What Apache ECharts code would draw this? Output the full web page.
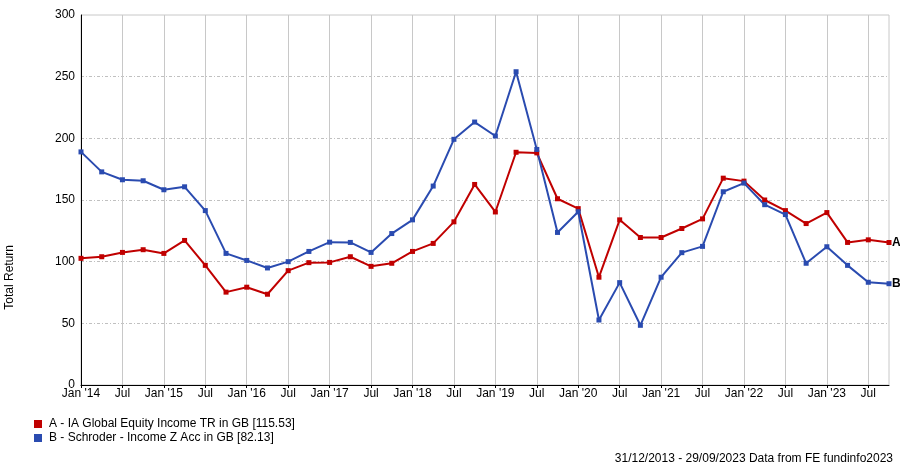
<!DOCTYPE html>
<html>
<head>
<meta charset="utf-8">
<script src="https://cdn.jsdelivr.net/npm/echarts@6/dist/echarts.min.js"></script>
<style>
html,body{margin:0;padding:0;background:#fff;}
#chart{width:900px;height:467px;}
</style>
</head>
<body>
<div id="chart"></div>
<script>
var categories = [
  "Jan '14","Apr '14","Jul '14","Oct '14",
  "Jan '15","Apr '15","Jul '15","Oct '15",
  "Jan '16","Apr '16","Jul '16","Oct '16",
  "Jan '17","Apr '17","Jul '17","Oct '17",
  "Jan '18","Apr '18","Jul '18","Oct '18",
  "Jan '19","Apr '19","Jul '19","Oct '19",
  "Jan '20","Apr '20","Jul '20","Oct '20",
  "Jan '21","Apr '21","Jul '21","Oct '21",
  "Jan '22","Apr '22","Jul '22","Oct '22",
  "Jan '23","Apr '23","Jul '23","Oct '23"
];
var seriesA = [
  102.7,104,107.5,109.7,106.7,117.2,97,75.3,79.3,73.6,
  92.7,99.2,99.4,104,96.2,98.7,108.3,114.8,132.3,162.6,
  140.3,188.7,188.2,151,143,87.4,133.9,119.6,119.6,126.9,
  134.7,167.7,165.3,150,141.4,130.9,139.8,115.6,117.7,115.53
];
var seriesB = [
  189,172.8,166.4,165.6,158.3,160.7,141.4,106.7,101,94.9,
  100,108.3,115.8,115.6,107.5,122.8,133.9,161.3,199.2,213.2,
  201.9,254,191,123.7,140.5,52.7,83,48.4,87.4,107.3,
  112.4,156.7,163.7,146.2,138.2,98.7,112.1,97,83.3,82.13
];
var nameA = "A - IA Global Equity Income TR in GB [115.53]";
var nameB = "B - Schroder - Income Z Acc in GB [82.13]";
var yTicks = {min: 0, max: 300, interval: 50};
var footer = "31/12/2013 - 29/09/2023 Data from FE fundinfo2023";
var yTitle = "Total Return";

var FONT = "'Liberation Sans', Arial, sans-serif";
var chart = echarts.init(document.getElementById('chart'), null, {renderer: 'canvas'});
chart.setOption({
  animation: false,
  backgroundColor: '#fff',
  textStyle: {fontFamily: FONT},
  grid: {left: 81, right: 11, top: 15, bottom: 82, show: true, borderColor: '#c8c8c8', borderWidth: 1, containLabel: false},
  legend: {
    orient: 'vertical', left: 29, top: 413, itemWidth: 8, itemHeight: 8, itemGap: 2,
    icon: 'rect',
    textStyle: {fontFamily: FONT, fontSize: 12, color: '#000', padding: [0, 0, 0, 2]},
    data: [nameA, nameB]
  },
  graphic: [
    {type: 'text', right: 7, bottom: 2, style: {text: footer, font: '12px ' + FONT, fill: '#000'}},
    {type: 'text', left: 4, top: 245, rotation: Math.PI / 2, originX: 0, originY: 0,
     style: {text: yTitle, font: '12px ' + FONT, fill: '#000'}}
  ],
  xAxis: {
    type: 'category', data: categories, boundaryGap: false,
    axisLine: {lineStyle: {color: '#000', width: 1}},
    axisTick: {show: true, interval: 1, length: 3, lineStyle: {color: '#000'}},
    axisLabel: {interval: 1, color: '#000', fontSize: 12, fontFamily: FONT, margin: 3,
      formatter: function (v) { return v.indexOf('Jul') === 0 ? 'Jul' : v; }},
    splitLine: {show: true, interval: 1, lineStyle: {color: '#c8c8c8', width: 1}}
  },
  yAxis: {
    type: 'value', min: yTicks.min, max: yTicks.max, interval: yTicks.interval,
    axisLine: {show: true, lineStyle: {color: '#000', width: 1}},
    axisTick: {show: false},
    axisLabel: {color: '#000', fontSize: 12, fontFamily: FONT, margin: 6},
    splitLine: {show: true, showMaxLine: false, showMinLine: false,
      lineStyle: {color: '#c0c0c0', width: 1, type: [3, 2, 1, 2]}}
  },
  series: [
    {
      name: nameA, type: 'line', data: seriesA,
      symbol: 'rect', symbolSize: 5, showAllSymbol: true,
      lineStyle: {color: '#c00000', width: 2}, itemStyle: {color: '#c00000'},
      endLabel: {show: true, formatter: 'A', color: '#000', fontWeight: 'bold', fontSize: 12, fontFamily: FONT, distance: 3}
    },
    {
      name: nameB, type: 'line', data: seriesB,
      symbol: 'rect', symbolSize: 5, showAllSymbol: true,
      lineStyle: {color: '#2a4bb0', width: 2}, itemStyle: {color: '#2a4bb0'},
      endLabel: {show: true, formatter: 'B', color: '#000', fontWeight: 'bold', fontSize: 12, fontFamily: FONT, distance: 3}
    }
  ]
});
</script>
</body>
</html>
